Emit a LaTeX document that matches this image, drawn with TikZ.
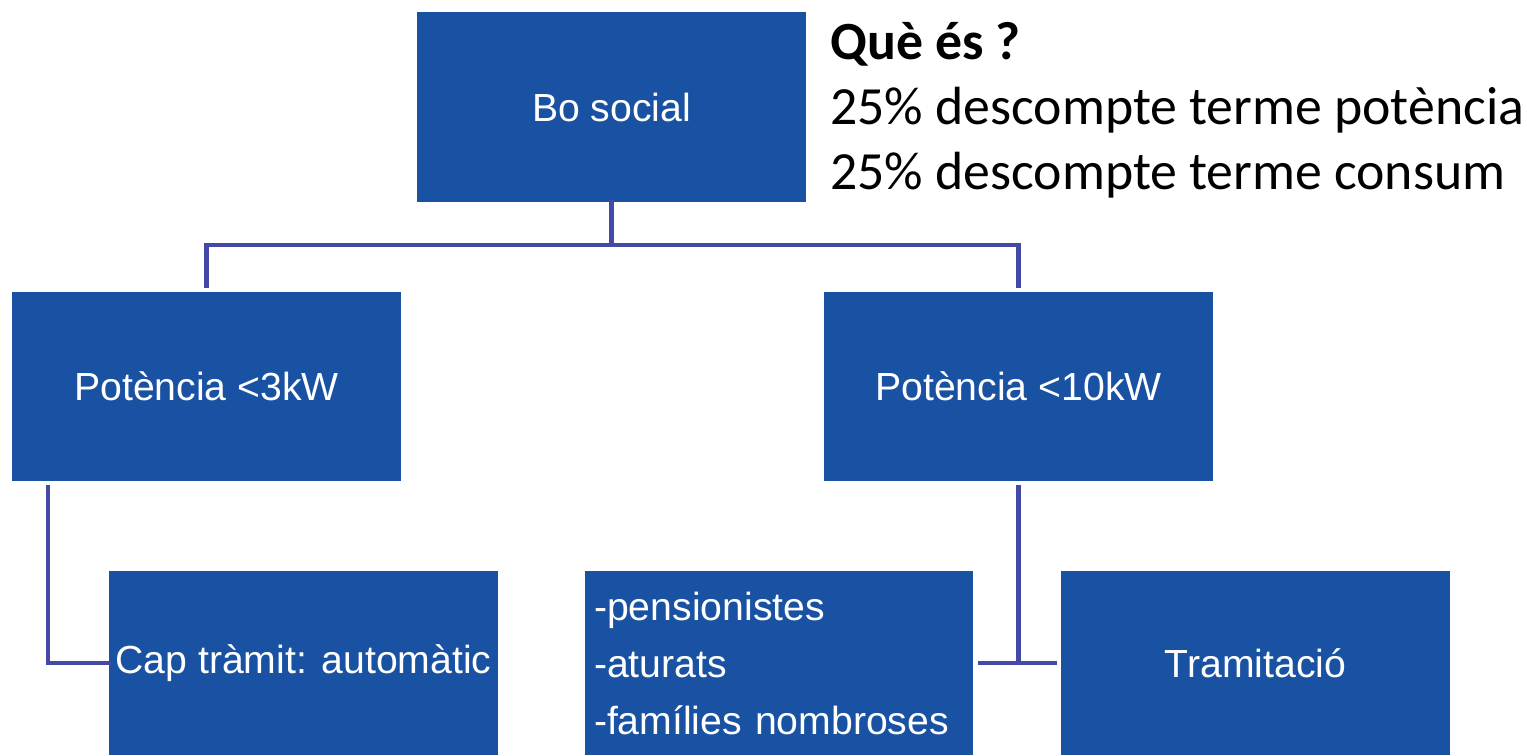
\documentclass[tikz,border=0pt]{standalone}
\usepackage{fontspec}
\setmainfont{Liberation Sans}
\newfontfamily\calfont{Carlito}
\usepackage{xcolor}
\definecolor{cBox}{HTML}{1A52A3}
\definecolor{cLink}{HTML}{4449A8}
\usepackage{tikz}
\usetikzlibrary{positioning,calc}
\tikzset{
  node-box/.style={fill=cBox,draw=none,text=white,inner sep=0pt,
    minimum width=7.78cm,minimum height=3.8cm,align=center,
    font=\fontsize{22.3}{32}\selectfont},
  node-low/.style={node-box,minimum height=3.68cm,anchor=north},
  link/.style={draw=cLink,line width=2.8pt,line cap=rect},
  note/.style={align=left,inner sep=0pt,
    font=\calfont\fontsize{30.6}{36.9}\selectfont},
}

\begin{document}
\begin{tikzpicture}[x=0.02cm,y=-0.02cm]
  \useasboundingbox (0,0) rectangle (1527,755);
  \node[node-box] (bo) at (611.5,107) {Bo social};
  \node[node-box] (p3) at (206.5,386.5) {Potència <3kW};
  \node[node-box] (p10) at (1018.5,386.5) {Potència <10kW};
  \node[node-low] (cap) at (303.5,571) {Cap tràmit: automàtic};
  \node[node-low,align=left,text width=7.4cm,
    font=\fontsize{22.3}{32.3}\selectfont] (col) at (779,571)
    {-pensionistes\\-aturats\\-famílies nombroses};
  \node[node-low] (tram) at (1255.5,571) {Tramitació};
  \node[note,anchor=north west] (que) at (830,22)
    {\textbf{Què és ?}\\25\% descompte terme potència\\25\% descompte terme consum};
  % connectors
  \coordinate (fork) at (611.5,245);
  \draw[link] (bo.south) -- (fork);
  \draw[link] (fork) -| ($(p3.north)+(0,-6)$);
  \draw[link] (fork) -| ($(p10.north)+(0,-6)$);
  \coordinate (elbow) at (48,663);
  \draw[link] (elbow |- p3.south) ++(0,6) -- (elbow) -- (elbow -| cap.west);
  \coordinate (tee) at (1018.5,663);
  \draw[link] ($(p10.south)+(0,6)$) -- (tee);
  \draw[link] ($(col.east |- tee)+(7,0)$) -- ($(tram.west |- tee)+(-6,0)$);
\end{tikzpicture}
\end{document}
